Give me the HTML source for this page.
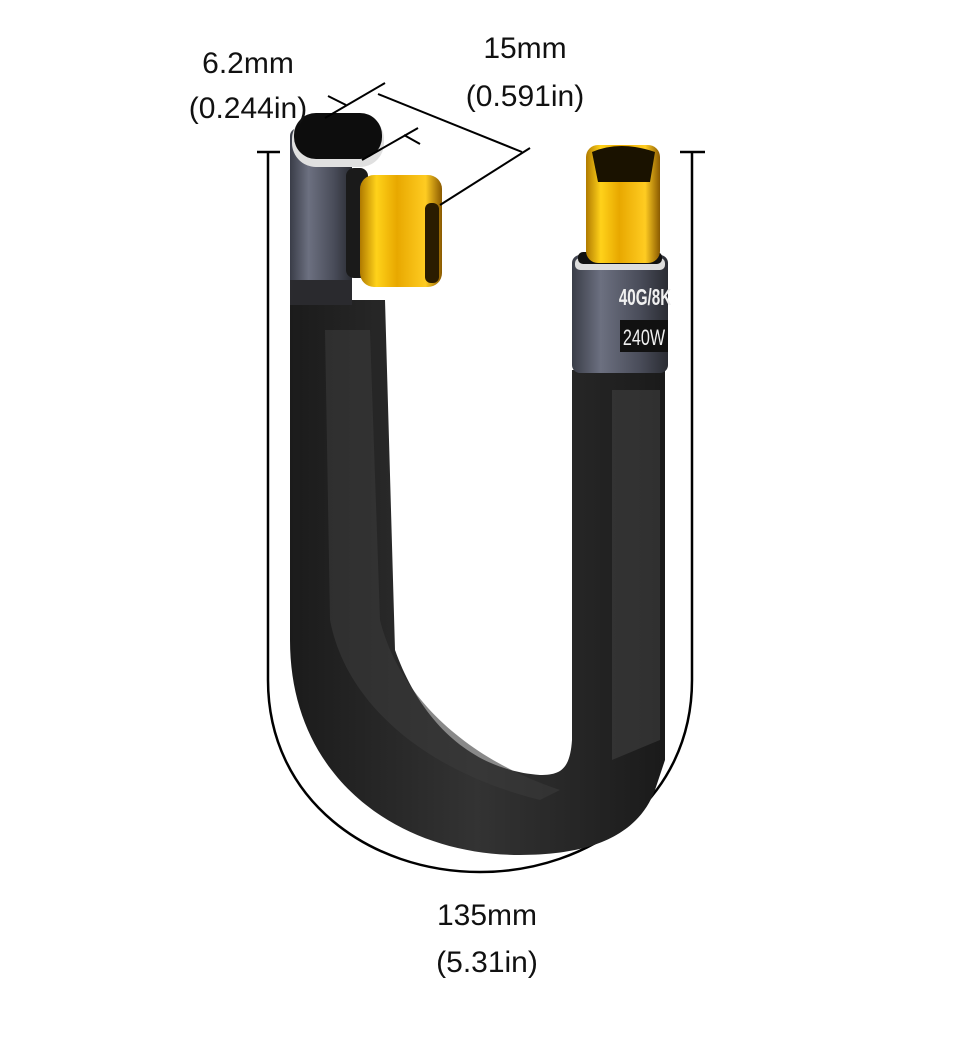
<!DOCTYPE html>
<html><head><meta charset="utf-8"><style>
html,body{margin:0;padding:0;background:#fff;}
svg{display:block}
text{font-family:"Liberation Sans",sans-serif;fill:#111;font-size:30px;text-anchor:middle}
</style></head><body>
<svg width="960" height="1054" viewBox="0 0 960 1054" xmlns="http://www.w3.org/2000/svg">
<defs>
<linearGradient id="gold" x1="0" x2="1"><stop offset="0" stop-color="#b07a00"/><stop offset=".2" stop-color="#ffd21a"/><stop offset=".45" stop-color="#e8a800"/><stop offset=".8" stop-color="#ffcc22"/><stop offset="1" stop-color="#8a5a00"/></linearGradient>
<linearGradient id="gray" x1="0" x2="1"><stop offset="0" stop-color="#3a3d48"/><stop offset=".3" stop-color="#6c7080"/><stop offset=".7" stop-color="#4a4d5a"/><stop offset="1" stop-color="#2a2c33"/></linearGradient>
<linearGradient id="cab" x1="0" x2="1"><stop offset="0" stop-color="#1b1b1b"/><stop offset=".5" stop-color="#333"/><stop offset="1" stop-color="#1a1a1a"/></linearGradient>
</defs>
<path d="M268,152 V680 C268,800 370,872 480,872 C590,872 692,800 692,680 V152" fill="none" stroke="#000" stroke-width="2.5"/>
<line x1="257" y1="152" x2="280" y2="152" stroke="#000" stroke-width="2.5"/>
<line x1="680" y1="152" x2="705" y2="152" stroke="#000" stroke-width="2.5"/>
<path d="M290,300 L290,640 C290,780 400,855 520,855 C600,855 640,830 655,790 L665,760 L665,370 L572,370 L572,740 C570,770 560,775 540,775 C470,770 420,720 395,650 L385,300 Z" fill="url(#cab)"/>
<path d="M325,330 L330,620 C345,700 420,770 540,800 L560,790 C470,760 400,700 380,620 L370,330 Z" fill="#3a3a3a" opacity=".6"/>
<path d="M612,390 L612,760 L660,740 L660,390 Z" fill="#404040" opacity=".6"/>
<rect x="290" y="128" width="62" height="175" rx="8" fill="url(#gray)"/>
<rect x="290" y="280" width="62" height="25" fill="#2a2a2e"/>
<rect x="292" y="115" width="92" height="52" rx="24" fill="#e0e0e0"/>
<rect x="294" y="113" width="88" height="46" rx="22" fill="#0d0d0d"/>
<rect x="346" y="168" width="22" height="110" rx="8" fill="#1a1a1a"/>
<rect x="360" y="175" width="82" height="112" rx="14" fill="url(#gold)"/>
<rect x="425" y="203" width="14" height="80" rx="6" fill="#2a1c00"/>
<rect x="572" y="255" width="96" height="118" rx="8" fill="url(#gray)"/>
<rect x="575" y="258" width="90" height="12" rx="5" fill="#ddd"/>
<rect x="578" y="252" width="84" height="12" rx="5" fill="#111"/>
<g transform="translate(645,305) scale(0.8,1.2)"><text x="0" y="0" style="font-size:19px;font-weight:bold;fill:#f0f0f0">40G/8K</text></g>
<rect x="620" y="320" width="48" height="32" fill="#111"/>
<g transform="translate(644,345) scale(0.85,1.15)"><text x="0" y="0" style="font-size:19px;fill:#f0f0f0">240W</text></g>
<rect x="586" y="145" width="74" height="118" rx="12" fill="url(#gold)"/>
<path d="M592,152 Q620,140 655,152 L650,182 L598,182 Z" fill="#1a1200"/>
<g stroke="#000" stroke-width="2" fill="none">
<line x1="325" y1="118" x2="385" y2="83"/>
<line x1="362" y1="160" x2="418" y2="128"/>
<line x1="378" y1="94" x2="522" y2="152"/>
<line x1="440" y1="205" x2="530" y2="148"/>
<line x1="328" y1="96" x2="346" y2="105"/>
<line x1="404" y1="135" x2="420" y2="144"/>
</g>
<text x="248" y="73">6.2mm</text>
<text x="248" y="118">(0.244in)</text>
<text x="525" y="58">15mm</text>
<text x="525" y="106">(0.591in)</text>
<text x="487" y="925">135mm</text>
<text x="487" y="972">(5.31in)</text>
</svg>
</body></html>
